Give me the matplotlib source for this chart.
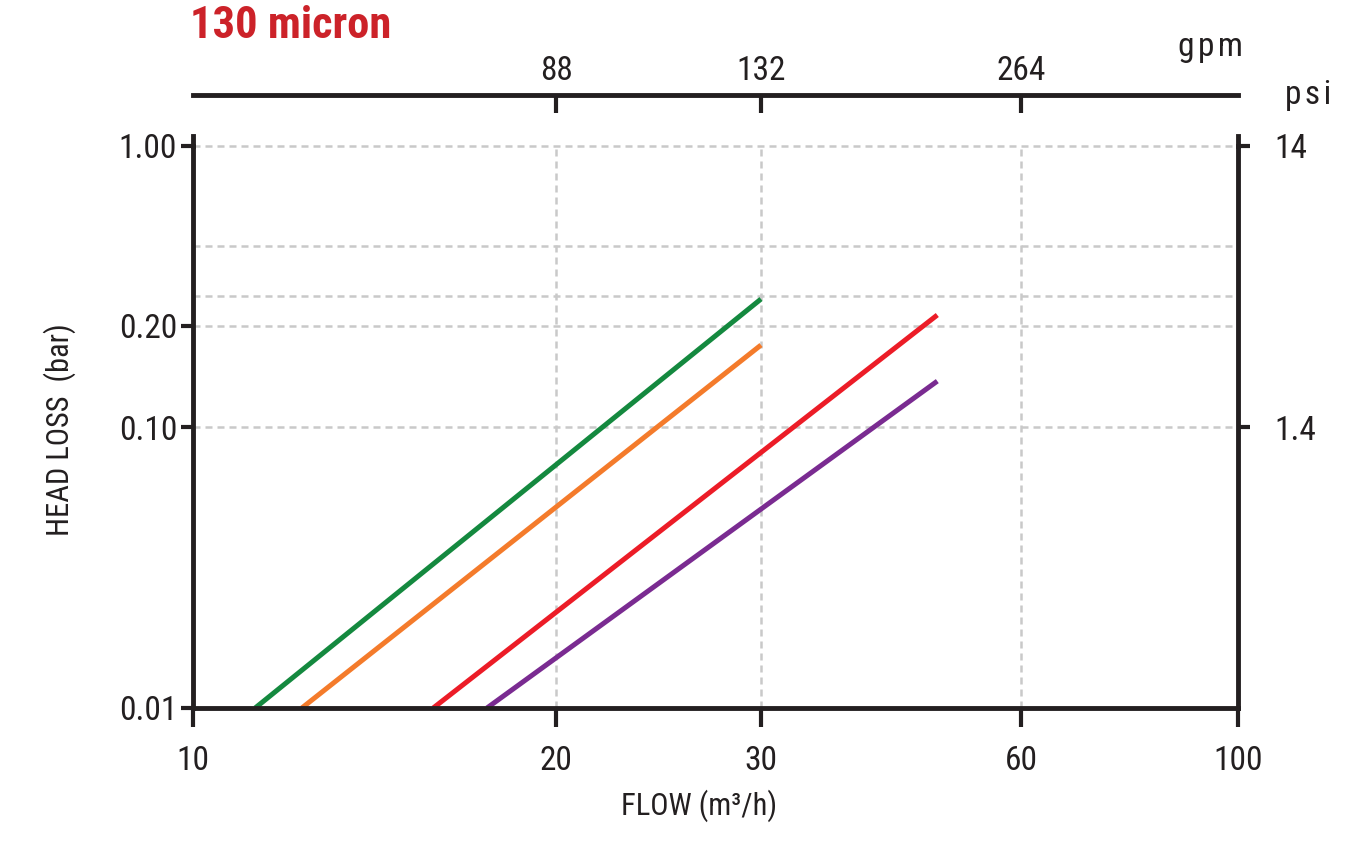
import numpy as np
import matplotlib
matplotlib.use("Agg")
import matplotlib.pyplot as plt
from matplotlib import font_manager as fm
from matplotlib.lines import Line2D

# ---------------- data ----------------
flow_ticks = [10, 20, 30, 60, 100]
flow_tick_labels = ["10", "20", "30", "60", "100"]
gpm_ticks = [20, 30, 60]
gpm_labels = ["88", "132", "264"]
loss_ticks = [0.01, 0.1, 0.2, 1.0]
loss_tick_labels = ["0.01", "0.10", "0.20", "1.00"]
loss_minor_grid = [0.3, 0.5]
psi_ticks = [0.1, 1.0]
psi_labels = ["1.4", "14"]

series_names = ["green", "orange", "red", "purple"]
flow_start = [11.26, 12.31, 15.82, 17.53]
loss_start = [0.01, 0.01, 0.01, 0.01]
flow_end = [30.0, 30.0, 48.0, 48.0]
loss_end = [0.288, 0.1755, 0.232, 0.137]
series_colors = ["#14893f", "#f47b2b", "#ec1c27", "#7a2b91"]

# --------------- fonts ----------------
ttf = fm.fontManager.ttflist
names = {f.name for f in ttf}
cand = [n for n in ["Liberation Sans Narrow", "Roboto Condensed", "Noto Sans Condensed",
                    "Open Sans Condensed", "Noto Sans Display Condensed"] if n in names]
if not cand:
    cand = sorted({f.name for f in ttf if ("Condensed" in f.name or "Narrow" in f.name)
                   and "Mono" not in f.name and "Serif" not in f.name and "CJK" not in f.name})
base = cand[0] if cand else "Liberation Sans"
plt.rcParams["font.family"] = [base, "DejaVu Sans"]
condensed = bool(cand)

# --------------- piecewise-log scales (chart axis is not a true log grid) -----
def make_scale(vals, pos):
    lv = np.log10(np.asarray(vals, float))
    p = np.asarray(pos, float)

    def fwd(v):
        v = np.asarray(v, float)
        with np.errstate(all="ignore"):
            l = np.log10(np.where(v > 0, v, 1e-300))
        out = np.interp(l, lv, p)
        out = np.where(l < lv[0], p[0] + (l - lv[0]) * (p[1] - p[0]) / (lv[1] - lv[0]), out)
        out = np.where(l > lv[-1], p[-1] + (l - lv[-1]) * (p[-1] - p[-2]) / (lv[-1] - lv[-2]), out)
        return out

    def inv(u):
        u = np.asarray(u, float)
        l = np.interp(u, p, lv)
        l = np.where(u < p[0], lv[0] + (u - p[0]) * (lv[1] - lv[0]) / (p[1] - p[0]), l)
        l = np.where(u > p[-1], lv[-1] + (u - p[-1]) * (lv[-1] - lv[-2]) / (p[-1] - p[-2]), l)
        return 10.0 ** l

    return fwd, inv

xf, xi = make_scale([10, 20, 30, 60, 100], [0, 363, 568, 828, 1045])
yf, yi = make_scale([0.01, 0.1, 0.2, 0.3, 0.5, 1.0], [0, 281, 382, 412, 462, 562])

W, H = 1350, 858
fig = plt.figure(figsize=(W / 100, H / 100), dpi=100)
L, R, T, B = 193, 1238, 146, 708
ax = fig.add_axes([L / W, 1 - B / H, (R - L) / W, (B - T) / H])
ax.set_xscale("function", functions=(xf, xi))
ax.set_yscale("function", functions=(yf, yi))
ax.set_xlim(10, 100)
ax.set_ylim(0.01, 1.0)

dark = "#231f20"
spw = 3.5
grid_kw = dict(color="#c9c9c9", linewidth=1.8, dashes=(2.8, 2.0))

# gridlines
for v in [20, 30, 60]:
    ax.axvline(v, zorder=1, **grid_kw)
for v in [0.1, 0.2] + loss_minor_grid + [1.0]:
    ax.axhline(v, zorder=1, clip_on=False, **grid_kw)

# series
for name, x0, y0, x1, y1, c in zip(series_names, flow_start, loss_start, flow_end, loss_end, series_colors):
    ax.plot([x0, x1], [y0, y1], color=c, linewidth=3.6, solid_capstyle="butt", zorder=3, label=name)

for s in ["top", "right"]:
    ax.spines[s].set_visible(False)
for s in ["left", "bottom"]:
    ax.spines[s].set_linewidth(spw)
    ax.spines[s].set_color(dark)
    ax.spines[s].set_zorder(5)

fs = 24 if condensed else 21
lfs = 22 if condensed else 19
ax.set_xticks(flow_ticks, flow_tick_labels)
ax.set_yticks(loss_ticks, loss_tick_labels)
ax.minorticks_off()
ax.tick_params(axis="x", direction="out", length=13.5, width=3, color=dark, pad=13, labelsize=fs, labelcolor=dark)
ax.tick_params(axis="y", direction="out", length=8.5, width=3, color=dark, pad=3, labelsize=fs, labelcolor=dark)

# right psi axis
axr = ax.twinx()
axr.set_yscale("function", functions=(yf, yi))
axr.set_ylim(0.01, 1.0)
for s in ["top", "left", "bottom"]:
    axr.spines[s].set_visible(False)
axr.spines["right"].set_linewidth(spw)
axr.spines["right"].set_color(dark)
axr.set_yticks(psi_ticks, psi_labels)
axr.minorticks_off()
axr.tick_params(axis="y", direction="out", length=8.5, width=3, color=dark, pad=18, labelsize=fs, labelcolor=dark)

# spine extensions above the plot
ext = 10 / (B - T)
for xa in [0, 1]:
    ax.add_line(Line2D([xa, xa], [1.0, 1.0 + ext], transform=ax.transAxes, color=dark,
                       linewidth=spw, clip_on=False, zorder=6))

# top gpm axis
gtop = 95
axg = fig.add_axes([L / W, 1 - (gtop + 20) / H, (R - L) / W, 20 / H])
axg.set_xscale("function", functions=(xf, xi))
axg.set_xlim(10, 100)
axg.patch.set_visible(False)
for s in ["left", "right", "bottom"]:
    axg.spines[s].set_visible(False)
axg.spines["top"].set_linewidth(spw)
axg.spines["top"].set_color(dark)
axg.set_yticks([])
axg.set_xticks(gpm_ticks, gpm_labels)
axg.minorticks_off()
axg.tick_params(axis="x", top=True, bottom=False, labeltop=True, labelbottom=False,
                direction="in", length=13, width=3, color=dark, pad=6, labelsize=fs, labelcolor=dark)

# labels
ax.set_xlabel("FLOW (m³/h)", fontsize=lfs, color=dark)
ax.xaxis.set_label_coords((699 - L) / (R - L), -(806 - B) / (B - T))
ax.xaxis.label.set_va("center")
ax.set_ylabel("HEAD LOSS  (bar)", fontsize=lfs, color=dark)
ax.yaxis.set_label_coords((60 - L) / (R - L), (B - 430) / (B - T))
ax.yaxis.label.set_va("center")

fig.text(190 / W, 1 - 38 / H, "130 micron", fontsize=32 if condensed else 29, fontweight="bold",
         color="#cc2229", ha="left", va="baseline")
fig.text(1243 / W, 1 - 56 / H, "g\u200ap\u200am", fontsize=fs, color=dark, ha="right", va="baseline")
fig.text(1285 / W, 1 - 104 / H, "p\u200as\u200ai", fontsize=fs, color=dark, ha="left", va="baseline")

fig.savefig("out.png", dpi=100)
